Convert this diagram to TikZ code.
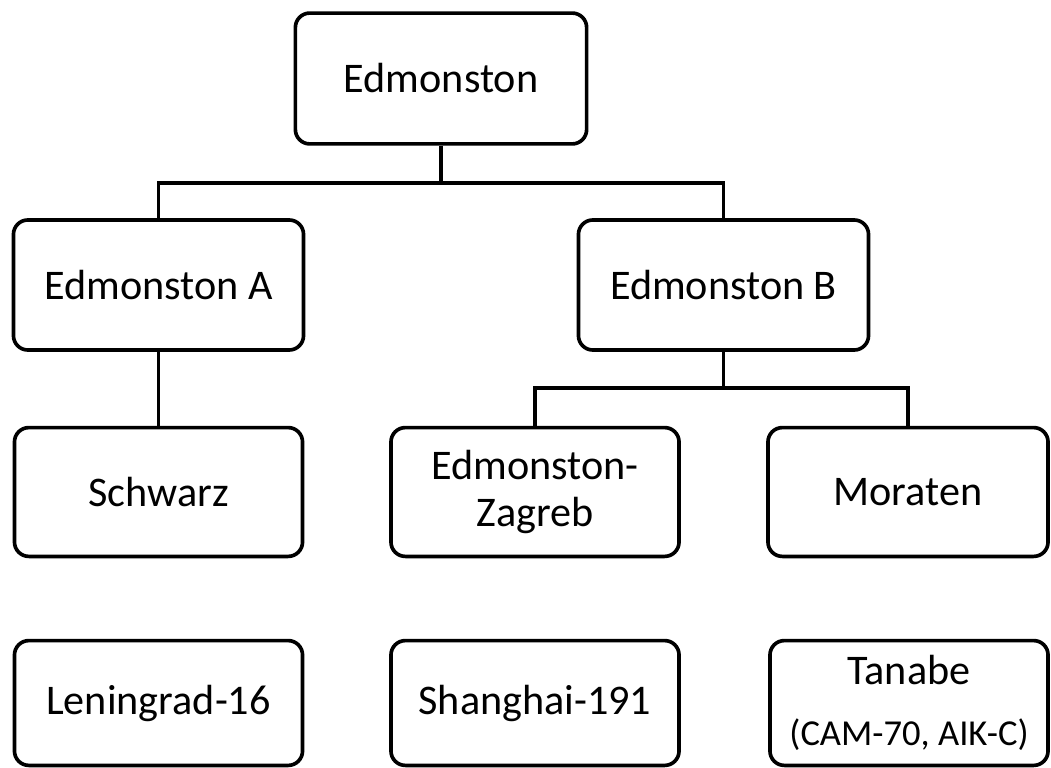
\documentclass[tikz,border=0pt]{standalone}
\usepackage{fontspec}
\setmainfont{Carlito}
\begin{document}
\begin{tikzpicture}[x=0.025cm,y=-0.025cm,
  box/.style={draw=black,line width=2.6pt,rounded corners=0.36cm,fill=white,
    align=center,inner sep=0pt,font=\fontsize{30}{33}\selectfont},
  link/.style={draw=black,line width=2.8pt}]
\useasboundingbox (0,0) rectangle (1051,768);
\node[box,minimum width=7.28cm,minimum height=3.27cm] (root) at (441,78.5) {Edmonston};
\node[box,minimum width=7.25cm,minimum height=3.25cm] (ea) at (158.5,285) {Edmonston A};
\node[box,minimum width=7.25cm,minimum height=3.25cm] (eb) at (723.5,285) {Edmonston B};
\node[box,minimum width=7.2cm,minimum height=3.22cm] (schw) at (158.5,492) {Schwarz};
\node[box,minimum width=7.2cm,minimum height=3.22cm] (zag) at (535,492) {Edmonston-\\Zagreb};
\node[box,minimum width=7.0cm,minimum height=3.22cm] (mor) at (908,492) {Moraten};
\node[box,minimum width=7.2cm,minimum height=3.12cm] (len) at (158.5,703) {Leningrad-16};
\node[box,minimum width=7.2cm,minimum height=3.12cm] (sha) at (535,703) {Shanghai-191};
\node[box,minimum width=6.95cm,minimum height=3.12cm] (tan) at (909,703) {Tanabe\\[10pt]{\fontsize{26}{28}\selectfont (CAM-70, AIK-C)}};
\coordinate (j1) at (441,183);
\coordinate (j2) at (723.5,388);
\draw[link] (root.south) -- (j1);
\draw[link] (ea.north) |- (j1) -| (eb.north);
\draw[link] (ea.south) -- (schw.north);
\draw[link] (eb.south) -- (j2);
\draw[link] (zag.north) |- (j2) -| (mor.north);
\end{tikzpicture}
\end{document}
